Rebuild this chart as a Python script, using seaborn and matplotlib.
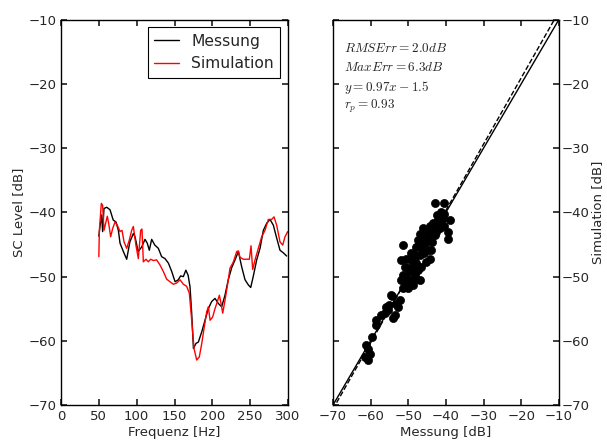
import numpy as np
import pandas as pd
import matplotlib
matplotlib.use("Agg")
import matplotlib.pyplot as plt
import seaborn as sns

# ── data ────────────────────────────────────────────────────
freq_mess = [50, 51.5, 53.7, 55, 56.8, 60.4, 64.8, 69, 72.7, 75.8, 78, 82.4, 86.8, 91,
             95.6, 97.8, 102, 106.6, 111, 114, 116.7, 119.8, 124, 128.6, 133, 137.4,
             141.9, 146.3, 150.7, 155, 158, 161.7, 165, 168, 170.5, 172.7, 175, 178.4,
             181.5, 186, 190.3, 194.7, 199, 203.5, 208, 212.3, 216.7, 221, 225.6, 230,
             234.4, 238.8, 243.2, 247.6, 250.7, 254, 258.6, 263, 267.4, 271.8, 276.2,
             280.6, 285, 289.4, 293.8, 298.2]
level_mess = [-43.7, -42.2, -40.4, -43.0, -39.4, -39.2, -39.6, -41.2, -41.5, -42.8, -44.8,
              -46.1, -47.3, -44.6, -43.3, -43.8, -46.1, -45.4, -44.2, -44.8, -45.9, -44.2,
              -45.1, -45.6, -46.9, -47.2, -47.9, -49.2, -50.8, -50.5, -49.9, -50.0, -49.0,
              -49.8, -51.6, -55.7, -61.2, -60.4, -60.2, -58.6, -56.8, -55.0, -53.9, -53.4,
              -54.2, -54.7, -52.9, -50.5, -48.6, -47.4, -46.1, -48.5, -50.5, -51.3, -51.7,
              -50.0, -47.4, -45.6, -42.8, -41.7, -41.1, -42.0, -44.0, -45.9, -46.3, -46.8]

freq_sim = [50, 50.7, 53.3, 55, 56.8, 59, 61.2, 63, 65.6, 68.3, 71.4, 74.4, 78, 80.6,
            83.3, 86.8, 90.3, 93.4, 95.6, 99, 102.2, 105.3, 107, 108.8, 112.3, 115.4,
            118.5, 122, 126.4, 130.8, 135.2, 139.6, 144, 148.5, 152.9, 157.3, 161.7, 166,
            169.6, 172.7, 175.8, 179.3, 182.8, 186, 189, 192.5, 194.7, 197, 200.4, 203.5,
            206.6, 209.3, 211.5, 213.7, 216.7, 220.3, 223.3, 227.8, 232.2, 234.4, 236.6,
            241, 245.4, 248.9, 251.1, 253.3, 256.4, 260.8, 265.2, 269.6, 274, 278.4,
            281.5, 285, 289.4, 293, 296, 299.6]
level_sim = [-46.9, -42.8, -38.6, -38.9, -42.8, -41.7, -40.6, -41.7, -43.8, -42.5, -41.5,
             -42.0, -43.0, -42.8, -44.6, -45.6, -44.3, -42.8, -42.2, -45.1, -47.2, -42.8,
             -42.6, -47.7, -47.3, -47.7, -47.3, -47.5, -47.4, -48.2, -49.2, -50.4, -50.8,
             -51.2, -51.0, -50.5, -51.2, -51.5, -52.6, -56.8, -61.2, -63.0, -62.5, -60.4,
             -58.1, -55.5, -54.7, -56.8, -56.3, -55.0, -53.9, -52.9, -54.2, -55.7, -53.7,
             -51.1, -48.7, -47.7, -46.1, -46.0, -47.0, -47.3, -47.3, -47.3, -45.2, -48.9,
             -47.4, -45.6, -43.8, -42.8, -41.1, -41.1, -40.7, -42.0, -44.6, -45.1, -43.8,
             -43.0]

# scatter: Messung vs Simulation
sc_mess = [-60.7, -61.6, -60.3, -61.3, -60.7, -59.6, -58.5, -58.7, -57.2, -56.3, -55.4,
           -55.0, -55.8, -54.1, -53.6, -54.2, -53.2, -52.7, -52.3, -54.5, -51.4, -51.9,
           -51.0, -50.5, -51.4, -50.1, -49.2, -47.9, -48.3, -47.0, -49.6, -48.8, -50.1,
           -51.9, -50.5, -49.2, -47.9, -46.6, -47.4, -51.4, -48.3, -47.0, -45.7, -44.3,
           -45.2, -46.6, -47.9, -44.8, -44.0, -46.6, -45.2, -47.0, -45.7, -44.3, -44.3,
           -43.0, -43.4, -42.1, -41.2, -42.4, -41.2, -40.4, -41.7, -40.5, -39.5, -39.5,
           -39.0, -43.0, -40.4, -46.1, -43.0, -43.6, -48.8, -50.1, -51.0, -49.2, -47.4,
           -46.1, -44.8, -42.6, -40.8]
sc_sim = [-63.0, -62.5, -62.0, -60.7, -61.2, -59.4, -57.5, -56.8, -56.0, -55.7, -55.2,
          -54.4, -54.7, -56.5, -56.0, -53.1, -54.2, -54.7, -53.7, -52.9, -51.8, -50.5,
          -51.1, -50.0, -49.8, -51.8, -50.5, -50.3, -49.8, -50.5, -49.2, -48.5, -48.7,
          -47.4, -47.2, -47.4, -47.9, -48.5, -49.0, -45.1, -46.6, -46.6, -46.4, -47.2,
          -47.7, -45.6, -45.4, -45.9, -45.9, -44.3, -44.6, -43.3, -43.0, -43.0, -42.2,
          -42.2, -41.7, -41.2, -41.5, -40.4, -39.9, -40.2, -42.5, -42.2, -43.0, -44.1,
          -41.2, -38.6, -38.5, -42.5, -43.5, -44.6, -51.3, -50.8, -48.5, -46.4, -44.3,
          -44.8, -43.8, -43.0, -40.9]

rms_err = 2.0
max_err = 6.3
fit_a, fit_b = 0.97, -1.5
r_p = 0.93

# ── style ───────────────────────────────────────────────────
sns.set_theme(style="ticks", rc={
    "xtick.direction": "in", "ytick.direction": "in",
    "xtick.top": True, "ytick.right": True,
    "xtick.major.size": 4, "ytick.major.size": 4,
    "axes.edgecolor": "black", "axes.linewidth": 1.0,
    "axes.labelsize": 9.5, "xtick.labelsize": 9.5, "ytick.labelsize": 9.5,
    "mathtext.fontset": "cm",
})
plt.rcParams["font.family"] = ["DejaVu Sans"]

fig = plt.figure(figsize=(6.07, 4.41), dpi=100)
ax1 = fig.add_axes([0.1005, 0.0816, 0.374, 0.8737])
ax2 = fig.add_axes([0.5486, 0.0816, 0.372, 0.8737])

# ── left: spectra ───────────────────────────────────────────
sns.lineplot(x=freq_mess, y=level_mess, ax=ax1, color="black", lw=1.0,
             estimator=None, label="Messung")
sns.lineplot(x=freq_sim, y=level_sim, ax=ax1, color="red", lw=1.0,
             estimator=None, label="Simulation")
ax1.set_xlim(0, 300)
ax1.set_ylim(-70, -10)
ax1.set_xticks(np.arange(0, 301, 50))
ax1.set_yticks(np.arange(-70, -9, 10))
ax1.set_xlabel("Frequenz [Hz]", labelpad=2)
ax1.set_ylabel("SC Level [dB]", labelpad=2)
leg = ax1.legend(loc="upper right", fontsize=11.2, fancybox=False, framealpha=1,
                 edgecolor="black", handlelength=1.6)
leg.get_frame().set_linewidth(0.8)

# ── right: scatter ──────────────────────────────────────────
sns.scatterplot(x=sc_mess, y=sc_sim, ax=ax2, color="black", edgecolor="black",
                s=34, linewidth=0.5, zorder=3)
xx = np.array([-70, -10])
ax2.plot(xx, xx, color="black", lw=1.0)
ax2.plot(xx, (xx - fit_b) / fit_a, color="black", lw=1.0, ls="--")
ax2.set_xlim(-70, -10)
ax2.set_ylim(-70, -10)
ax2.set_xticks(np.arange(-70, -9, 10))
ax2.set_yticks(np.arange(-70, -9, 10))
ax2.tick_params(axis="y", left=True, right=True, labelleft=False, labelright=True,
                pad=2)
ax2.yaxis.set_label_position("right")
ax2.set_xlabel("Messung [dB]", labelpad=2)
ax2.set_ylabel("Simulation [dB]", labelpad=1)

stats = [
    rf"$RMSErr={rms_err:.1f}dB$",
    rf"$MaxErr={max_err:.1f}dB$",
    rf"$y={fit_a:.2f}x{fit_b:.1f}$",
    rf"$r_p={r_p:.2f}$",
]
for i, s in enumerate(stats):
    ax2.text(0.05, 0.925 - i * 0.05, s, transform=ax2.transAxes, fontsize=9.5,
             va="center", ha="left")

for ax in (ax1, ax2):
    for sp in ax.spines.values():
        sp.set_visible(True)
        sp.set_color("black")

fig.savefig("out.png", dpi=100)
